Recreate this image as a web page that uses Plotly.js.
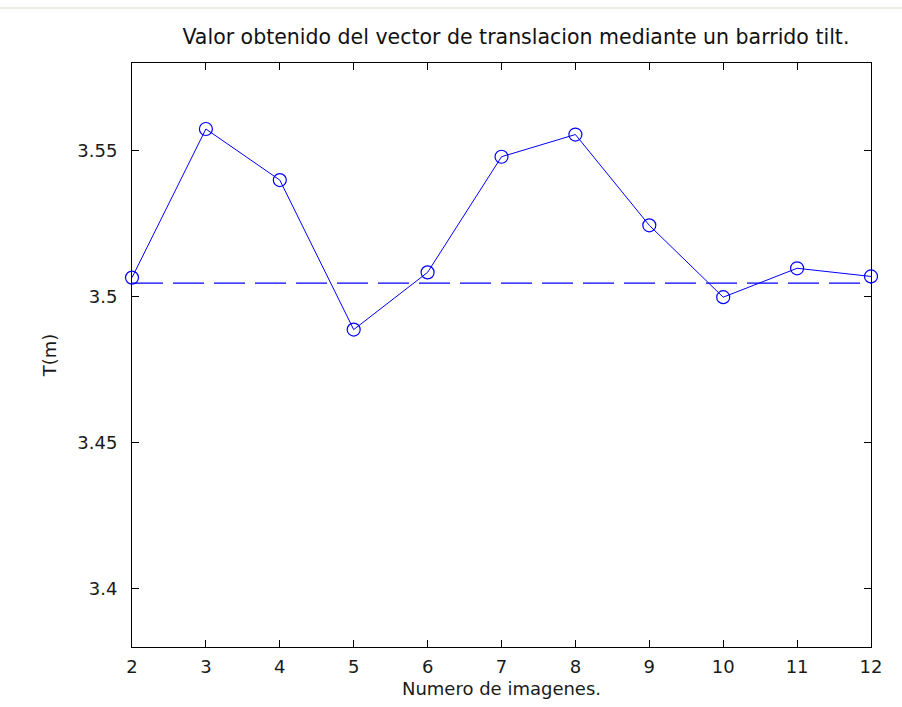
<!DOCTYPE html>
<html>
<head>
<meta charset="utf-8">
<script src="https://cdn.plot.ly/plotly-3.0.1.min.js"></script>
<style>html,body{margin:0;padding:0;background:#fff;}#chart{width:902px;height:707px;}</style>
</head>
<body>
<div id="chart"></div>
<script>
const numImagenes = [2, 3, 4, 5, 6, 7, 8, 9, 10, 11, 12];
const valorT = [3.5065, 3.5574, 3.5399, 3.4887, 3.5083, 3.5479, 3.5555, 3.5244, 3.4998, 3.5097, 3.5069];
const refX = [2, 12];
const refT = [3.5046, 3.5046];
const xTicks = [2, 3, 4, 5, 6, 7, 8, 9, 10, 11, 12];
const yTicks = [3.4, 3.45, 3.5, 3.55];
const yTickText = ['3.4', '3.45', '3.5', '3.55'];

const blue = '#0000ff';
const fam = 'DejaVu Sans, Verdana, sans-serif';
const traces = [
  {
    x: refX, y: refT, mode: 'lines', type: 'scatter',
    line: {color: blue, width: 1.2, dash: '31px,10px'},
    hoverinfo: 'skip', cliponaxis: false
  },
  {
    x: numImagenes, y: valorT, mode: 'lines+markers', type: 'scatter',
    line: {color: blue, width: 1},
    marker: {symbol: 'circle-open', size: 13, color: blue, line: {color: blue, width: 1.2}},
    cliponaxis: false
  }
];

const axisCommon = {
  showgrid: false, zeroline: false, showline: true, mirror: 'ticks',
  linecolor: '#000', linewidth: 1, ticks: 'inside', ticklen: 7, tickwidth: 1, tickcolor: '#000',
  tickfont: {family: fam, size: 18, color: '#1a1a1a'}
};

const layout = {
  width: 902, height: 707,
  margin: {l: 132, r: 31, t: 63, b: 60},
  paper_bgcolor: '#fff', plot_bgcolor: '#fff',
  showlegend: false,
  font: {family: fam, color: '#1a1a1a'},
  title: {
    text: 'Valor obtenido del vector de translacion mediante un barrido tilt.',
    font: {family: fam, size: 20.5, color: '#111'},
    xref: 'container', x: 0.572, xanchor: 'center', y: 0.948, yanchor: 'middle'
  },
  xaxis: Object.assign({}, axisCommon, {
    range: [2, 12], tickvals: xTicks, ticktext: xTicks.map(String),
    ticklabelstandoff: 3,
    title: {text: 'Numero de imagenes.', font: {family: fam, size: 18, color: '#1a1a1a'}, standoff: 6}
  }),
  yaxis: Object.assign({}, axisCommon, {
    range: [3.38, 3.58], tickvals: yTicks, ticktext: yTickText,
    ticklabelstandoff: 10,
    title: {text: 'T(m)', font: {family: fam, size: 18, color: '#1a1a1a'}, standoff: 16}
  }),
  shapes: [
    {type: 'line', xref: 'paper', yref: 'paper', x0: -0.18, x1: 1.05, y0: 1.094, y1: 1.094,
     line: {color: '#e6e6da', width: 1.5}}
  ]
};

Plotly.newPlot('chart', traces, layout, {displayModeBar: false, staticPlot: true});
</script>
</body>
</html>
